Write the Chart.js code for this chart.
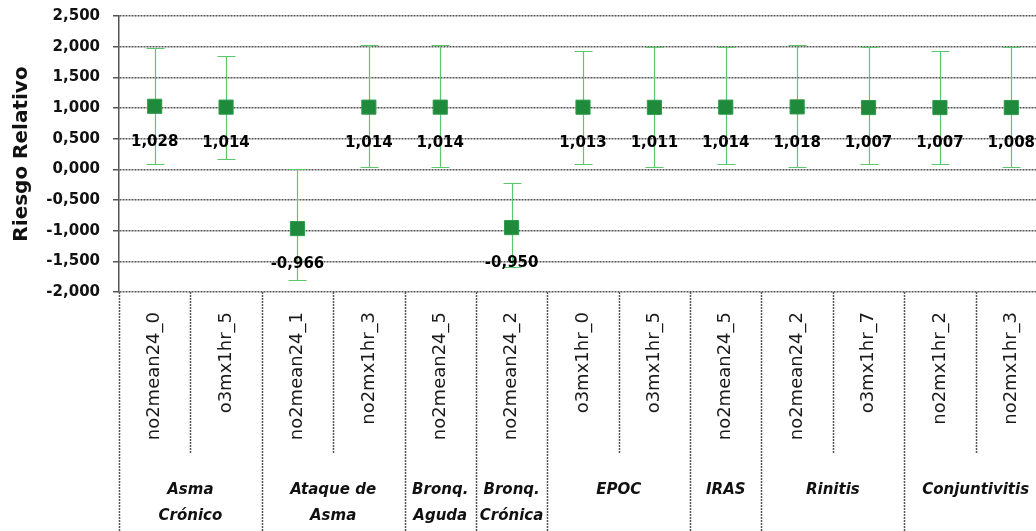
<!DOCTYPE html>
<html>
<head>
<meta charset="utf-8">
<script src="https://cdn.jsdelivr.net/npm/chart.js@4"></script>
<style>
  html, body { margin: 0; padding: 0; background: #fff; overflow: hidden; width: 1036px; height: 531px; }
</style>
</head>
<body>
<canvas id="rr-graph" width="1058" height="531"></canvas>
<script>
const categories = ["no2mean24_0", "o3mx1hr_5", "no2mean24_1", "no2mx1hr_3", "no2mean24_5", "no2mean24_2",
	"o3mx1hr_0", "o3mx1hr_5", "no2mean24_5", "no2mean24_2", "o3mx1hr_7", "no2mx1hr_2", "no2mx1hr_3"];
const riesgo = [1.028, 1.014, -0.966, 1.014, 1.014, -0.950, 1.013, 1.011, 1.014, 1.018, 1.007, 1.007, 1.008];
const upper = [1.98, 1.85, 0.00, 2.02, 2.02, -0.22, 1.93, 1.99, 1.99, 2.02, 1.99, 1.93, 1.99];
const lower = [0.08, 0.17, -1.80, 0.04, 0.04, -1.59, 0.09, 0.04, 0.09, 0.04, 0.09, 0.09, 0.04];
const groupNames = [["Asma", "Crónico"], ["Ataque de", "Asma"], ["Bronq.", "Aguda"], ["Bronq.", "Crónica"],
	["EPOC"], ["IRAS"], ["Rinitis"], ["Conjuntivitis"]];
const groupSizes = [2, 2, 1, 1, 2, 1, 2, 2];
const yTicks = [-2, -1.5, -1, -0.5, 0, 0.5, 1, 1.5, 2, 2.5];

const fmt = v => v.toFixed(3).replace(".", ",");
const gridColor = "#555";

// error bars, separators under the axis, group names and value labels
const extras = {
	id: "extras",
	beforeDatasetsDraw(chart) {
		const ctx = chart.ctx;
		const x = chart.scales.x, y = chart.scales.y;
		ctx.save();
		ctx.strokeStyle = "#5cc86e";
		ctx.lineWidth = 1.2;
		for (let i = 0; i < riesgo.length; i++) {
			const px = Math.round(x.getPixelForValue(i)) + 0.5;
			const top = Math.round(y.getPixelForValue(upper[i])) + 0.5;
			const bot = Math.round(y.getPixelForValue(lower[i])) + 0.5;
			ctx.beginPath();
			ctx.moveTo(px, top); ctx.lineTo(px, bot);
			ctx.moveTo(px - 9, top); ctx.lineTo(px + 9, top);
			ctx.moveTo(px - 9, bot); ctx.lineTo(px + 9, bot);
			ctx.stroke();
		}
		ctx.restore();
	},
	afterDraw(chart) {
		const ctx = chart.ctx;
		const x = chart.scales.x;
		const area = chart.chartArea;
		ctx.save();
		ctx.strokeStyle = gridColor;
		ctx.lineWidth = 1.5;
		ctx.setLineDash([2, 1]);
		// separators between categories
		let start = 0;
		const groupStarts = [0];
		groupSizes.forEach(s => { start += s; groupStarts.push(start); });
		for (let b = 0; b < categories.length; b++) {
			const px = Math.round(x.getPixelForValue(b - 0.5)) + 0.5;
			const full = groupStarts.includes(b);
			ctx.beginPath();
			ctx.moveTo(px, area.bottom);
			ctx.lineTo(px, full ? chart.height : area.bottom + 161);
			ctx.stroke();
		}
		ctx.setLineDash([]);
		// group names
		ctx.fillStyle = "#111";
		ctx.font = "italic bold 15px 'DejaVu Sans'";
		ctx.textAlign = "center";
		ctx.textBaseline = "middle";
		groupNames.forEach((lines, g) => {
			const cx = x.getPixelForValue((groupStarts[g] + groupStarts[g + 1] - 1) / 2);
			lines.forEach((t, k) => ctx.fillText(t, cx, area.bottom + 198 + k * 26));
		});
		ctx.restore();
	},
	afterDatasetsDraw(chart) {
		const ctx = chart.ctx;
		const meta = chart.getDatasetMeta(0);
		ctx.save();
		ctx.fillStyle = "#000";
		ctx.font = "bold 15px 'DejaVu Sans'";
		ctx.textAlign = "center";
		ctx.textBaseline = "middle";
		meta.data.forEach((pt, i) => {
			ctx.fillText(fmt(riesgo[i]), pt.x, pt.y + 36);
		});
		ctx.restore();
	}
};

const ctx = document.getElementById("rr-graph");
new Chart(ctx, {
	type: "line",
	data: {
		labels: categories,
		datasets: [
			{
				label: "Riesgo Relativo",
				data: riesgo,
				showLine: false,
				pointStyle: "rect",
				pointRadius: 10,
				pointBackgroundColor: "#1f8a3b",
				pointBorderColor: "#2e9c4a",
				pointBorderWidth: 1
			}
		]
	},
	options: {
		responsive: false,
		animation: false,
		events: [],
		layout: { padding: { top: 16, right: 0, bottom: 0, left: 0 } },
		plugins: {
			legend: { display: false },
			tooltip: { enabled: false }
		},
		scales: {
			x: {
				type: "category",
				offset: true,
				afterFit: s => { s.height = 239; },
				grid: { display: false },
				border: { display: false },
				ticks: {
					autoSkip: false,
					minRotation: 90,
					maxRotation: 90,
					padding: 12,
					color: "#1a1a1a",
					font: { family: "'DejaVu Sans'", size: 18 }
				}
			},
			y: {
				min: -2,
				max: 2.5,
				afterFit: s => { s.width = 119; s.paddingTop = 0; s.paddingBottom = 0; },
				afterBuildTicks: s => { s.ticks = yTicks.map(v => ({ value: v })); },
				title: {
					display: true,
					text: "Riesgo Relativo",
					color: "#111",
					padding: { top: 10, bottom: 0 },
					font: { family: "'DejaVu Sans'", size: 20, weight: "bold" }
				},
				grid: {
					color: gridColor,
					lineWidth: 1.5,
					tickLength: 6,
					tickColor: gridColor
				},
				border: { display: true, color: gridColor, width: 1.5, dash: [2, 1] },
				ticks: {
					padding: 13,
					color: "#111",
					font: { family: "'DejaVu Sans'", size: 15, weight: "bold" },
					callback: v => fmt(v)
				}
			}
		}
	},
	plugins: [extras]
});
</script>
</body>
</html>
